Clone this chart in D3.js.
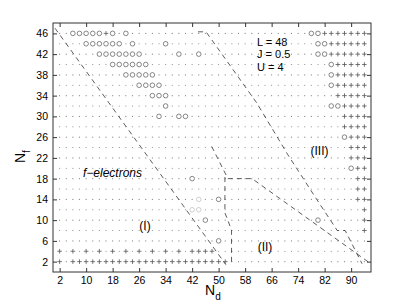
<!DOCTYPE html>
<html>
<head>
<meta charset="utf-8">
<script src="https://cdn.jsdelivr.net/npm/d3@7"></script>
<style>
  body { margin: 0; background: #fff; }
  text { font-family: "Liberation Sans", Arial, sans-serif; }
</style>
</head>
<body>
<svg id="chart"></svg>
<script>
const width = 409;
const height = 307;

// grid of computed points (N_d columns, N_f rows)
const ndValues = [2,4,6,8,10,12,14,16,18,20,22,24,26,28,30,32,34,36,38,40,42,44,46,48,
                  50,52,54,56,58,60,62,64,66,68,70,72,74,76,78,80,82,84,86,88,90,92,94];
const nfValues = [46,44,42,40,38,36,34,32,30,28,26,24,22,20,18,16,14,12,10,8,6,4,2];

// one string per N_f row, one char per N_d column: . dot, o circle, + plus, g faint circle
const phaseRows = [
  "..ooooo+o.o...........................oo+++++++",
  "....oooooo.o....o......................oo++++++",
  "......ooooooo.....o..o.................oo++++++",
  "........oooooo...........................o+++++",
  "..........ooooo..........................o+++++",
  "............oooo.........................o+++++",
  "..............ooo.........................+++++",
  "................o........................oo++++",
  "...............o..oo.......................++++",
  "...........................................++++",
  "...........................................o+++",
  "............................................+++",
  "............................................+++",
  "............................................o++",
  "....................o........................++",
  ".............................................++",
  ".....................g..o....................++",
  "....................gg........................+",
  "......................o................o......+",
  "..............................................+",
  "........................o......................",
  "+.+.+.+.+.+.+.+.+.+.++++.......................",
  "+.++++++++++++++++++++++++....................."
];

const xTicks = [2,10,18,26,34,42,50,58,66,74,82,90];
const yTicks = [2,6,10,14,18,22,26,30,34,38,42,46];

// dashed phase boundaries, [N_d, N_f]
const fElectronLine = [[0.6,47.0],[52.2,1.4]];
const upperLine = [[43.8,46.3],[46.2,46.3],[61.5,32.6],[70.9,22.6],[79.1,14.5],[85.8,8.0],[88.2,8.0],[93.3,1.6]];
const middleLine = [[47.9,24.2],[52.8,18.0],[60.1,18.0],[95.7,1.7]];
const verticalLine = [[51.9,18.3],[51.9,11.4],[53.9,8.1],[53.9,1.4]];

const params = ["L = 48","J = 0.5","U = 4"];

const svg = d3.select("#chart")
    .attr("width", width)
    .attr("height", height);

const x = d3.scaleLinear().domain([0, 96]).range([53, 371]);
const y = d3.scaleLinear().domain([0, 48]).range([272, 23]);

// axes, MATLAB style ticks inside on all four sides
function styleAxis(g) {
  g.select(".domain").remove();
  g.selectAll(".tick line").attr("stroke", "#333");
  g.selectAll(".tick text").attr("fill", "#000").style("font-size", "10.5px")
      .style("font-family", "'Liberation Sans', Arial, sans-serif");
}

svg.append("g").attr("transform", "translate(0,272)")
    .call(d3.axisBottom(x).tickValues(xTicks).tickSizeInner(-4).tickSizeOuter(0).tickPadding(5))
    .call(styleAxis);
svg.append("g").attr("transform", "translate(0,23)")
    .call(d3.axisTop(x).tickValues(xTicks).tickSizeInner(-4).tickSizeOuter(0).tickFormat(""))
    .call(styleAxis);
svg.append("g").attr("transform", "translate(53,0)")
    .call(d3.axisLeft(y).tickValues(yTicks).tickSizeInner(-4).tickSizeOuter(0).tickPadding(5))
    .call(styleAxis);
svg.append("g").attr("transform", "translate(371,0)")
    .call(d3.axisRight(y).tickValues(yTicks).tickSizeInner(-4).tickSizeOuter(0).tickFormat(""))
    .call(styleAxis);

svg.append("rect")
    .attr("x", x(0)).attr("y", y(48))
    .attr("width", x(96) - x(0)).attr("height", y(0) - y(48))
    .attr("fill", "none").attr("stroke", "#333").attr("stroke-width", 1);

// flatten grid
const points = [];
phaseRows.forEach((row, i) => {
  row.split("").forEach((c, j) => {
    points.push({nd: ndValues[j], nf: nfValues[i], type: c});
  });
});

const marks = svg.append("g");

marks.selectAll(".dot")
    .data(points.filter(d => d.type === "."))
    .enter().append("circle")
    .attr("cx", d => x(d.nd)).attr("cy", d => y(d.nf))
    .attr("r", 0.6).attr("fill", "#888");

marks.selectAll(".ring")
    .data(points.filter(d => d.type === "o" || d.type === "g"))
    .enter().append("circle")
    .attr("cx", d => x(d.nd)).attr("cy", d => y(d.nf))
    .attr("r", 2.3).attr("fill", "none")
    .attr("stroke", d => d.type === "g" ? "#bbb" : "#555")
    .attr("stroke-width", 0.7);

marks.selectAll(".plus")
    .data(points.filter(d => d.type === "+"))
    .enter().append("path")
    .attr("transform", d => `translate(${x(d.nd)},${y(d.nf)})`)
    .attr("d", "M-2.3,0H2.3M0,-2.3V2.3")
    .attr("stroke", "#555").attr("stroke-width", 0.8);

const line = d3.line().x(d => x(d[0])).y(d => y(d[1]));

[fElectronLine, upperLine, middleLine, verticalLine].forEach(pts => {
  svg.append("path")
      .attr("d", line(pts))
      .attr("fill", "none")
      .attr("stroke", "#333")
      .attr("stroke-width", 0.8)
      .attr("stroke-dasharray", "5,4");
});

// labels
svg.selectAll(".param")
    .data(params)
    .enter().append("text")
    .attr("x", 257).attr("y", (d, i) => 45.5 + i * 12.7)
    .style("font-size", "11px")
    .text(d => d);

svg.append("text")
    .attr("x", 83).attr("y", 177)
    .style("font-size", "12px").style("font-style", "italic")
    .text("f\u2212electrons");

const regions = [["(I)", 145, 230], ["(II)", 265, 251], ["(III)", 319.5, 155]];
svg.selectAll(".region")
    .data(regions)
    .enter().append("text")
    .attr("x", d => d[1]).attr("y", d => d[2])
    .attr("text-anchor", "middle")
    .style("font-size", "12px")
    .text(d => d[0]);

const xl = svg.append("text").attr("x", 205).attr("y", 295).style("font-size", "14px");
xl.append("tspan").text("N");
xl.append("tspan").attr("dy", 5).style("font-size", "10px").text("d");

const yl = svg.append("text")
    .attr("transform", "translate(25,163) rotate(-90)")
    .style("font-size", "14px");
yl.append("tspan").text("N");
yl.append("tspan").attr("dy", 5).style("font-size", "10px").text("f");
</script>
</body>
</html>
